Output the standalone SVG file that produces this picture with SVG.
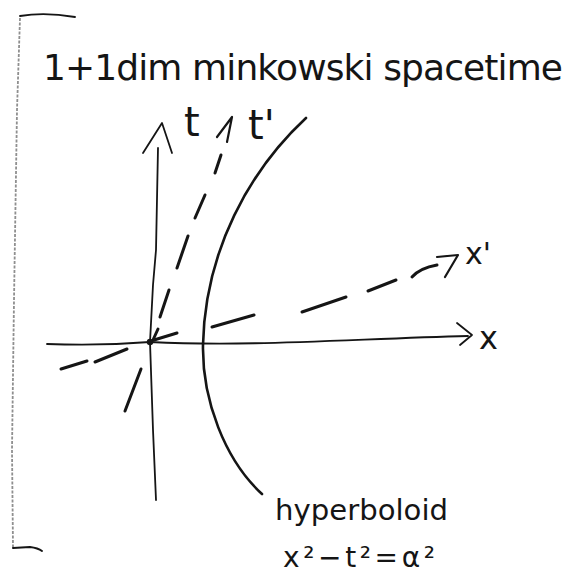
<svg xmlns="http://www.w3.org/2000/svg" width="576" height="580" viewBox="0 0 576 580">
  <style>
    .ink { fill: none; stroke: #151515; stroke-linecap: round; stroke-linejoin: round; }
    .axis { stroke-width: 1.8; }
    .dash { stroke-width: 3; }
    .hyp { stroke-width: 2.6; }
    .txt { font-family: "DejaVu Sans", "Liberation Sans", sans-serif; fill: #151515; }
  </style>
  <rect width="576" height="580" fill="#ffffff"/>

  <g id="frame">
    <path d="M20,16 Q45,12 75,17" class="ink" stroke-width="1.8"/>
    <path d="M20,18 L17,110 L14,300 L12,450 L13,548" fill="none" stroke="#8f8f8f" stroke-width="1.8" stroke-dasharray="3 1.5"/>
    <path d="M13,548 L30,547 Q38,548 42,551" class="ink" stroke-width="2"/>
  </g>

  <g id="title">
    <text class="txt" x="43" y="80" font-size="36" textLength="520" lengthAdjust="spacing">1+1dim minkowski spacetime</text>
  </g>

  <g id="connectors">
    <!-- t axis -->
    <path id="t-axis" class="ink axis" d="M158,148 L156,250 L153,285 L150,342 L153,430 L156,500"/>
    <path class="ink axis" d="M143,153 L162,123 L172,153"/>
    <!-- x axis -->
    <path id="x-axis" class="ink axis" d="M47,344 Q100,346 150,342 C250,347 350,339 468,336"/>
    <path class="ink axis" d="M457,323 L472,335 L460,345"/>
    <!-- t' axis (dashed) -->
    <g id="t-prime-axis" class="ink dash">
      <path d="M125,411 L141,369"/>
      <path d="M153,340 L158,329"/>
      <path d="M160,317 L169,290"/>
      <path d="M177,268 L188,236"/>
      <path d="M195,218 L205,195"/>
      <path d="M215,173 L221,155"/>
      <path d="M217,137 L232,117 L227,142" stroke-width="2.2"/>
    </g>
    <!-- x' axis (dashed) -->
    <g id="x-prime-axis" class="ink dash">
      <path d="M61,369 L87,361"/>
      <path d="M95,362 L127,349"/>
      <path d="M154,340 L177,333"/>
      <path d="M212,327 L254,315"/>
      <path d="M302,312 L346,297"/>
      <path d="M368,291 L396,280"/>
      <path d="M412,277 Q420,268 437,265"/>
      <path d="M437,257 L458,255 L445,277" stroke-width="2.2"/>
    </g>
    <circle cx="150" cy="342" r="3.2" fill="#151515"/>
  </g>

  <g id="hyperboloid">
    <path class="ink hyp" d="M306,118 C250,170 205,250 203,345 C202,400 225,460 262,494"/>
  </g>

  <g id="labels">
    <text class="txt" x="184" y="136" font-size="40">t</text>
    <text class="txt" x="248" y="139" font-size="40">t'</text>
    <text class="txt" x="465" y="264" font-size="30">x'</text>
    <text class="txt" x="479" y="349" font-size="32">x</text>
    <text class="txt" x="275" y="520" font-size="28" textLength="173" lengthAdjust="spacingAndGlyphs">hyperboloid</text>
    <text class="txt" x="283" y="567" font-size="28" textLength="152" lengthAdjust="spacing">x²−t²=α²</text>
  </g>
</svg>
